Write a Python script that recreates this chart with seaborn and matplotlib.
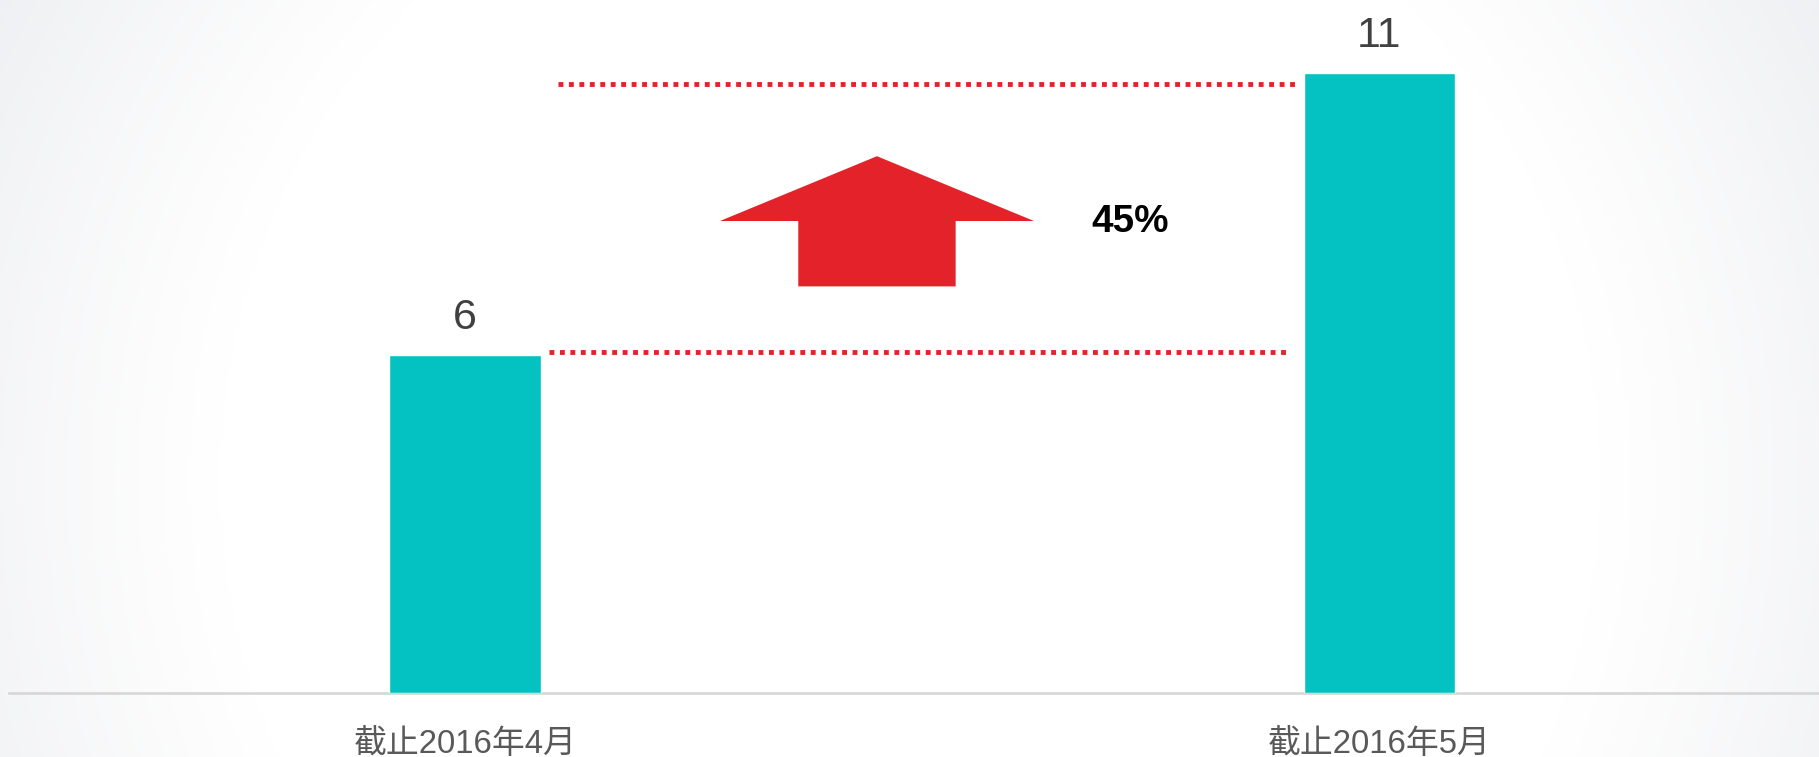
import numpy as np
import pandas as pd
import matplotlib
matplotlib.use("Agg")
import matplotlib.pyplot as plt
from matplotlib.patches import FancyArrow
import seaborn as sns

# Data
categories = ["截止2016年4月", "截止2016年5月"]
values = [6, 11]
growth_label = "45%"

# Reference levels for the dotted guide lines
guide_low = 6.05
guide_high = 10.82

sns.set_theme(style="white")
plt.rcParams["font.family"] = ["Liberation Sans", "Noto Sans CJK SC", "DejaVu Sans"]

BAR_COLOR = "#04c1c2"
RED = "#e4222a"

W, H = 18.19, 7.57
fig = plt.figure(figsize=(W, H), dpi=100)

# Soft radial background: white centre fading to light grey corners
bg = fig.add_axes([0, 0, 1, 1], zorder=-10)
ny, nx = 379, 910
yy, xx = np.mgrid[0:ny, 0:nx] * 2.0
d = np.sqrt((xx - 909) ** 2 + (yy - 480) ** 2)
t = np.clip((d - 690) / (1060 - 690), 0, 1) ** 1.1
white = np.array([1.0, 1.0, 1.0])
grey = np.array([0xee, 0xef, 0xf2]) / 255.0
img = white[None, None, :] * (1 - t[..., None]) + grey[None, None, :] * t[..., None]
bg.imshow(img, aspect="auto", extent=[0, 1, 0, 1], origin="upper")
bg.set_axis_off()

ax = fig.add_axes([9 / 1819, (757 - 693.3) / 757, 1 - 9 / 1819, (693.3 - 17) / 757])
ax.set_facecolor("none")

df = pd.DataFrame({"period": categories, "count": values})
sns.barplot(data=df, x="period", y="count", color=BAR_COLOR, width=0.166,
            saturation=1, ax=ax, zorder=3)

ax.set_xlim(-0.4986, 1.4806)
ax.set_ylim(0, 12.0)

# Value labels above bars
for i, v in enumerate(values):
    ax.annotate(str(v), xy=(i, v), xytext=(0, 18.7), textcoords="offset points",
                ha="center", va="baseline", fontsize=31, color="#404040")

# Dotted guide lines
ax.hlines(guide_low, 0.0919, 0.900, colors=RED, linewidth=3.5,
          linestyles=(0, (1.0, 1.15)), zorder=2)
ax.hlines(guide_high, 0.1017, 0.9076, colors=RED, linewidth=3.5,
          linestyles=(0, (1.0, 1.15)), zorder=2)
for ln in ax.collections[-2:]:
    ln.set_capstyle("butt")

# Upward growth arrow
arrow_x = 0.4505
arrow_tail = 7.22
arrow_tip = 9.53
ax.add_patch(FancyArrow(arrow_x, arrow_tail, 0, arrow_tip - arrow_tail,
                        width=0.1721, head_width=0.3434, head_length=1.15,
                        length_includes_head=True, color=RED, lw=0, zorder=4))
ax.text(0.727, 8.36, growth_label, ha="center", va="center",
        fontsize=27.8, fontweight="bold", color="black")

# Axes styling
for s in ["top", "right", "left"]:
    ax.spines[s].set_visible(False)
ax.spines["bottom"].set_color("#d6d6d6")
ax.spines["bottom"].set_linewidth(1.9)
ax.set_yticks([])
ax.set_xlabel("")
ax.set_ylabel("")
ax.tick_params(axis="x", length=0, pad=26, labelsize=23.7, labelcolor="#595959")

fig.savefig("out.png", dpi=100)
